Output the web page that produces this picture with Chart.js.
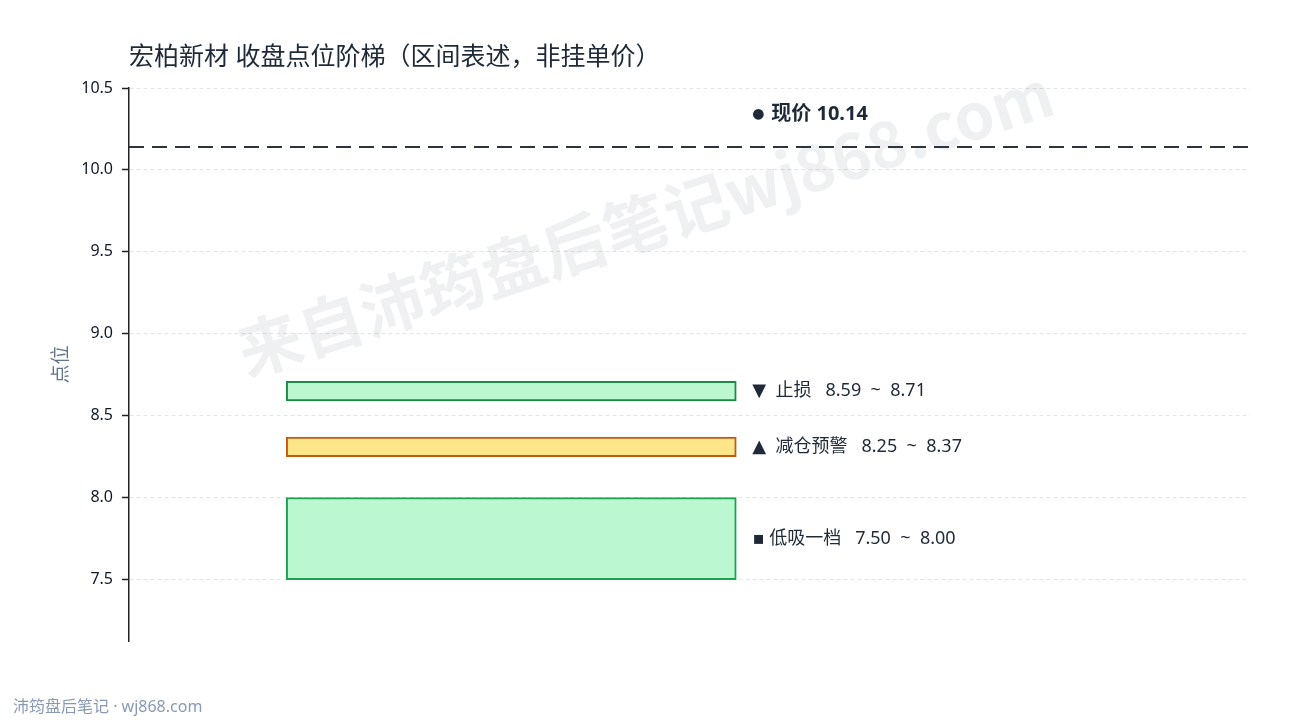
<!DOCTYPE html>
<html>
<head>
<meta charset="utf-8">
<script src="https://cdn.jsdelivr.net/npm/chart.js@4/dist/chart.umd.min.js"></script>
<style>
  html, body { margin: 0; padding: 0; background: #fff; }
  #wrap { width: 1290px; height: 720px; position: relative; }
</style>
</head>
<body>
<div id="wrap"><canvas id="chart"></canvas></div>
<script>
// zones, bottom to top
const zoneNames = ["低吸一档", "减仓预警", "止损"];
const zoneMarks = ["▪", "▲", "▼"];
const zoneLow = [7.50, 8.25, 8.59];
const zoneHigh = [8.00, 8.37, 8.71];
const priceNow = 10.14;
const yTicks = [7.5, 8.0, 8.5, 9.0, 9.5, 10.0, 10.5];

const zoneFill = ["#bbf7d0", "#fde68a", "#bbf7d0"];
const zoneEdge = ["#1fa24f", "#c25a12", "#1c8a46"];
const FONT = "'Noto Sans', 'DejaVu Sans', 'Noto Sans CJK SC', sans-serif";

const decorPlugin = {
  id: "decor",
  beforeDatasetsDraw(chart) {
    const { ctx } = chart;
    ctx.save();
    ctx.translate(645, 222);
    ctx.rotate(-18 * Math.PI / 180);
    ctx.font = `bold 64px 'Noto Sans CJK SC', sans-serif`;
    ctx.fillStyle = "rgba(100, 116, 139, 0.11)";
    ctx.textAlign = "center";
    ctx.textBaseline = "middle";
    ctx.fillText("来自沛筠盘后笔记wj868.com", 0, 0);
    ctx.restore();
  },
  afterDatasetsDraw(chart) {
    const { ctx, scales } = chart;
    const bars = chart.getDatasetMeta(0).data;
    let labelX = 0;
    ctx.save();
    ctx.textAlign = "left";
    ctx.textBaseline = "middle";
    ctx.fillStyle = "#1f2937";
    ctx.font = `18px ${FONT}`;
    bars.forEach((bar, i) => {
      labelX = bar.x + bar.width / 2 + 16;
      const midY = (bar.y + bar.base) / 2;
      const gap = i === 0 ? " " : "  ";
      const text = `${zoneMarks[i]}${gap}${zoneNames[i]}   ${zoneLow[i].toFixed(2)}  ~  ${zoneHigh[i].toFixed(2)}`;
      ctx.fillText(text, labelX, midY);
    });

    // current price label: small dot, then bold text
    const priceY = scales.y.getPixelForValue(priceNow + 0.2);
    ctx.font = `14px ${FONT}`;
    ctx.fillText("●", labelX, priceY);
    ctx.font = `bold 20px ${FONT}`;
    ctx.fillText(`现价 ${priceNow.toFixed(2)}`, labelX + 19, priceY);

    // title and footer
    ctx.font = `25px ${FONT}`;
    ctx.fillStyle = "#1f2937";
    ctx.fillText("宏柏新材 收盘点位阶梯（区间表述，非挂单价）", 129, 58);
    ctx.font = `16px ${FONT}`;
    ctx.fillStyle = "#8a9ab5";
    ctx.fillText("沛筠盘后笔记 · wj868.com", 13, 707);
    ctx.restore();
  },
};

new Chart(document.getElementById("chart"), {
  type: "bar",
  data: {
    datasets: [
      {
        type: "bar",
        data: zoneLow.map((low, i) => ({ x: 0.341, y: [low, zoneHigh[i]] })),
        backgroundColor: zoneFill,
        borderColor: zoneEdge,
        borderWidth: 2,
        borderSkipped: false,
        barThickness: 450,
        grouped: false,
      },
      {
        type: "line",
        data: [{ x: 0, y: priceNow }, { x: 1, y: priceNow }],
        borderColor: "#2d3340",
        borderWidth: 2,
        borderDash: [15, 8],
        pointRadius: 0,
        fill: false,
      },
    ],
  },
  options: {
    animation: false,
    responsive: true,
    maintainAspectRatio: false,
    layout: { padding: { left: 0, top: 88, right: 40, bottom: 79 } },
    plugins: {
      legend: { display: false },
      tooltip: { enabled: false },
    },
    scales: {
      x: {
        type: "linear",
        min: 0,
        max: 1,
        offset: false,
        display: false,
      },
      y: {
        min: 7.125,
        max: 10.5,
        afterFit: (scale) => { scale.width = 129; },
        afterBuildTicks: (scale) => { scale.ticks = yTicks.map((v) => ({ value: v })); },
        ticks: {
          color: "#111827",
          padding: 9,
          font: { family: FONT, size: 16 },
          callback: (value) => Number(value).toFixed(1),
        },
        grid: {
          color: "#e2e4e8",
          lineWidth: 1,
          tickColor: "#222",
          tickWidth: 1.5,
          tickLength: 7,
          tickBorderDash: [],
        },
        border: { display: true, color: "#222", width: 1.5, dash: [4, 3] },
        title: {
          display: true,
          text: "点位",
          color: "#64748b",
          font: { family: FONT, size: 19 },
          padding: { top: 50, bottom: 0 },
        },
      },
    },
  },
  plugins: [decorPlugin],
});
</script>
</body>
</html>
